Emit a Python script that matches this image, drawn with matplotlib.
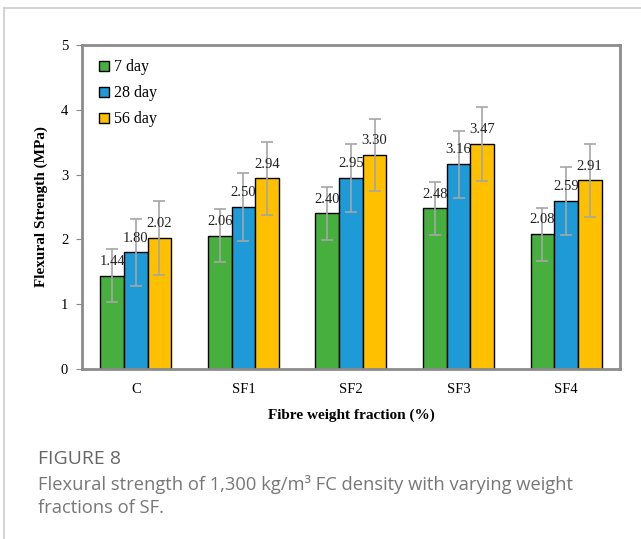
import numpy as np
import matplotlib.pyplot as plt
from matplotlib.lines import Line2D

categories = ['C', 'SF1', 'SF2', 'SF3', 'SF4']
series = ['7 day', '28 day', '56 day']
day7 = [1.44, 2.06, 2.40, 2.48, 2.08]
day28 = [1.80, 2.50, 2.95, 3.16, 2.59]
day56 = [2.02, 2.94, 3.30, 3.47, 2.91]
err7 = [0.41, 0.41, 0.41, 0.41, 0.41]
err28 = [0.52, 0.52, 0.52, 0.52, 0.52]
err56 = [0.57, 0.56, 0.56, 0.57, 0.56]

colors = ['#47AF3E', '#1E9AD6', '#FFC000']
serif = 'Liberation Serif'

fig = plt.figure(figsize=(6.41, 5.39), dpi=100)
ax = fig.add_axes([0.128, 0.3154, 0.839, 0.6011])

x = np.arange(len(categories))
w = 0.22
vals = [day7, day28, day56]
errs = [err7, err28, err56]
for i, (v, e) in enumerate(zip(vals, errs)):
    pos = x + (i - 1) * w
    ax.bar(pos, v, w, color=colors[i], edgecolor='black', linewidth=1.0,
           label=series[i], zorder=2)
    ax.errorbar(pos, v, yerr=e, fmt='none', ecolor='#A6A6A6', elinewidth=1.2,
                capsize=4, capthick=1.2, zorder=3)
    for p, val in zip(pos, v):
        ax.text(p, val + 0.12, f'{val:.2f}', ha='center', va='bottom',
                fontsize=10.5, family=serif, color='#222222', zorder=4)

ax.set_xlim(-0.5, len(categories) - 0.5)
ax.set_ylim(0, 5)
ax.set_yticks([0, 1, 2, 3, 4, 5])
ax.set_xticks(x)
ax.set_xticklabels(categories)
for lab in ax.get_xticklabels() + ax.get_yticklabels():
    lab.set_family(serif)
    lab.set_fontsize(10.5)
ax.tick_params(axis='x', length=0, pad=10)
ax.tick_params(axis='y', length=4, color='#888888', pad=6)
for s in ax.spines.values():
    s.set_color('#8C8C8C')
    s.set_linewidth(2.0)

ax.set_ylabel('Flexural Strength (MPa)', family=serif, fontweight='bold',
              fontsize=11, labelpad=9)
ax.set_xlabel('Fibre weight fraction (%)', family=serif, fontweight='bold',
              fontsize=11, labelpad=9)

handles = [Line2D([], [], marker='s', linestyle='none', markersize=7.5,
                  markerfacecolor=c, markeredgecolor='black',
                  markeredgewidth=1.0) for c in colors]
ax.legend(handles, series, loc='upper left', frameon=False,
          prop={'family': serif, 'size': 11.5}, handletextpad=0.1,
          handlelength=1.0, labelspacing=0.62, borderaxespad=0.5)

# panel border
fig.add_artist(Line2D([4 / 641, 1], [1 - 8 / 539, 1 - 8 / 539],
                      color='#CCCCCC', linewidth=1.2))
fig.add_artist(Line2D([4 / 641, 4 / 641], [0, 1 - 8 / 539],
                      color='#CCCCCC', linewidth=1.2))

fig.text(38 / 641, 1 - 459 / 539, 'FIGURE 8', family='Open Sans',
         fontsize=14, color='#666666', va='center', ha='left')
fig.text(38 / 641, 1 - 484 / 539,
         'Flexural strength of 1,300 kg/m\u00b3 FC density with varying weight',
         family='Open Sans', fontsize=13.2, color='#777777', va='center', ha='left')
fig.text(38 / 641, 1 - 508 / 539, 'fractions of SF.',
         family='Open Sans', fontsize=13.2, color='#777777', va='center', ha='left')

fig.savefig('out.png', dpi=100)
